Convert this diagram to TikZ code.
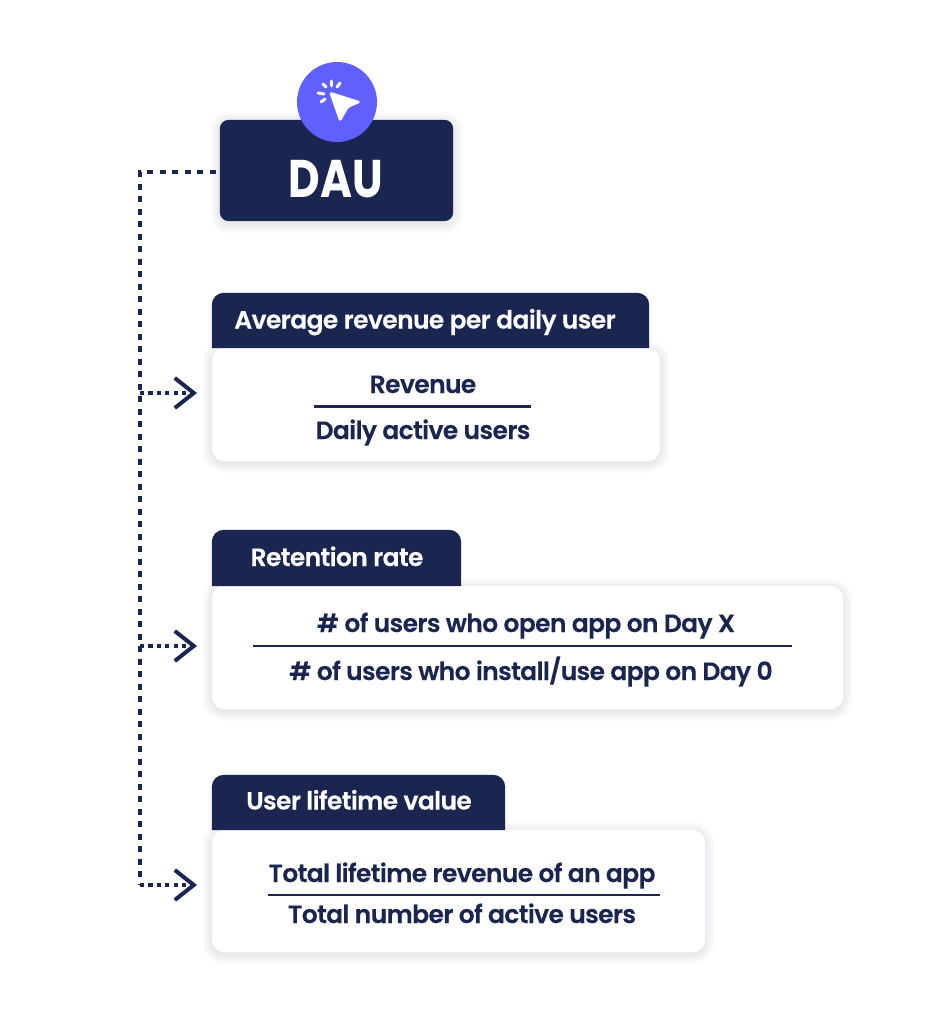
\documentclass[tikz,border=0pt]{standalone}
\usepackage{fontspec}
\setmainfont{Poppins}[BoldFont={Poppins SemiBold}]
\newfontfamily\labelfont{Poppins SemiBold}[LetterSpace=-2.5,FakeBold=0.25]
\newfontfamily\titlefont{Poppins Bold}[FakeStretch=0.82]
\usepackage{xcolor}
\usetikzlibrary{arrows.meta,backgrounds}
\definecolor{navy}{HTML}{1A2650}
\definecolor{violet}{HTML}{5F60FF}
\definecolor{haze}{HTML}{4A5078}
\tikzset{
    headtext/.style = {text=white, anchor=base, font=\labelfont\fontsize{25}{29}\selectfont, inner sep=0pt},
    bodytext/.style = {text=navy, anchor=base, font=\labelfont\fontsize{25}{29}\selectfont, inner sep=0pt},
    box/.style = {inner sep=0pt, minimum width=#1},
    flow/.style = {navy, line width=4.4pt, dash pattern=on 6pt off 6.5pt},
    branch/.style = {navy, line width=4pt, dash pattern=on 4.2pt off 4.2pt,
        -{Straight Barb[length=19pt,width=30pt,line width=4pt]}},
    rule/.style = {navy, line width=2.4pt},
    spark/.style = {white, line width=3pt, line cap=round},
}
% soft shadow round a named box
\newcommand{\softshadow}[2][9pt]{%
    \foreach \w in {2,5,...,20} {
        \draw[haze, opacity=0.014, line width=\w pt, rounded corners=#1]
            ([yshift=-2pt]#2.south west) rectangle ([yshift=-2pt]#2.north east);
    }
}
% white card with its navy tab on top
\newcommand{\cardback}[2]{%
    \softshadow[13pt]{#1}
    \fill[white, rounded corners=13pt] (#1.south west) rectangle (#1.north east);
    \fill[navy] (#2.south west) [rounded corners=12pt] -- (#2.north west) -- (#2.north east)
        [sharp corners] -- (#2.south east) -- cycle;
}
\begin{document}
\begin{tikzpicture}[x=1pt, y=-1pt]
    \useasboundingbox (0,0) rectangle (944,1024);
    % Nodes
    \node[box=233pt, minimum height=101pt] (dau) at (336.5,170.5) {};
    \node[text=white, anchor=base, font=\titlefont\fontsize{53}{57}\selectfont, inner sep=0pt] (dautext) at (336,198) {DAU};
    \node[circle, fill=violet, minimum size=80pt, inner sep=0pt] (badge) at (337,102) {};
    \node[box=448pt, minimum height=113pt] (cardA) at (436,404.5) {};
    \node[box=437pt, minimum height=55pt] (tabA) at (430.5,320.5) {};
    \node[headtext] (headA) at (425,328.5) {Average revenue per daily user};
    \node[bodytext] (topA) at (423,393) {Revenue};
    \node[bodytext] (botA) at (423,439) {Daily active users};
    \node[box=631pt, minimum height=123pt] (cardB) at (527.5,647.5) {};
    \node[box=249pt, minimum height=56pt] (tabB) at (336.5,558) {};
    \node[headtext] (headB) at (337,566) {Retention rate};
    \node[bodytext] (topB) at (526,632) {\# of users who open app on Day X};
    \node[bodytext] (botB) at (531,680) {\# of users who install/use app on Day 0};
    \node[box=493pt, minimum height=122pt] (cardC) at (458.5,891) {};
    \node[box=293pt, minimum height=55pt] (tabC) at (358.5,802.5) {};
    \node[headtext] (headC) at (359,809.5) {User lifetime value};
    \node[bodytext] (topC) at (462,882) {Total lifetime revenue of an app};
    \node[bodytext] (botC) at (462,923) {Total number of active users};
    \coordinate (elbow) at (140,172);
    \coordinate (tipA) at (197,393);
    \coordinate (tipB) at (197,646);
    \coordinate (tipC) at (197,885);
    % Boxes
    \begin{scope}[on background layer]
        \fill[white] (0,0) rectangle (944,1024);
        \softshadow{dau}
        \fill[navy, rounded corners=9pt] (dau.south west) rectangle (dau.north east);
        \cardback{cardA}{tabA}
        \cardback{cardB}{tabB}
        \cardback{cardC}{tabC}
    \end{scope}
    % Rules
    \draw[rule] (314,406.5) -- (531,406.5);
    \draw[rule] (253,646) -- (792,646);
    \draw[rule] (268,895) -- (660,895);
    % Edges
    \draw[flow] ([xshift=-4pt]dau.west |- elbow) -- (elbow) -- (elbow |- tipC);
    \draw[branch] (elbow |- tipA) -- (tipA);
    \draw[branch] (elbow |- tipB) -- (tipB);
    \draw[branch] (elbow |- tipC) -- (tipC);
    % Cursor
    \filldraw[white, line width=1.5pt, line join=round, rounded corners=2pt] (330,92.5) -- (360,102) -- (348,107) -- (340,121) -- cycle;
    \draw[spark] (331,81) -- (331,86);
    \draw[spark] (340,83) -- (337,87);
    \draw[spark] (323,84) -- (326,87);
    \draw[spark] (318,93) -- (324,94);
    \draw[spark] (321,102) -- (325,99);
\end{tikzpicture}
\end{document}
